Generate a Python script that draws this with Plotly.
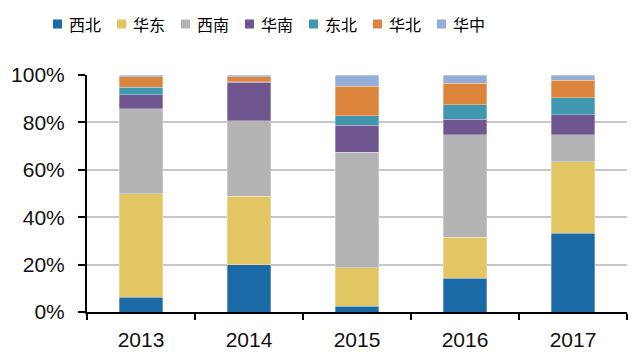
import plotly.graph_objects as go

years = ["2013", "2014", "2015", "2016", "2017"]
regions = ["西北", "华东", "西南", "华南", "东北", "华北", "华中"]
xibei = [6.3, 20.0, 2.4, 14.2, 33.3]
huadong = [43.5, 28.8, 16.2, 17.3, 30.0]
xinan = [35.9, 31.9, 48.9, 43.3, 11.4]
huanan = [5.9, 16.2, 11.2, 6.5, 8.5]
dongbei = [3.2, 0.3, 4.1, 6.2, 7.3]
huabei = [4.4, 2.0, 12.4, 9.0, 7.2]
huazhong = [0.8, 0.8, 4.8, 3.5, 2.3]
series = [xibei, huadong, xinan, huanan, dongbei, huabei, huazhong]
colors = ["#1B6AA5", "#E3C664", "#B4B4B4", "#6F568E", "#4097AE", "#DD843C", "#94ADD6"]
ytick_vals = [0, 20, 40, 60, 80, 100]
ytick_text = ["0%", "20%", "40%", "60%", "80%", "100%"]

# page is shifted by the html body margin (8px)
W, H = 632, 351
ML, MR, MT, MB = 79, 13, 67, 47
PW = W - ML - MR
PH = H - MT - MB
OFF = 8


def px_to_paper_x(px):
    return (px - OFF - ML) / PW


def py_to_paper_y(py):
    return (H - MB - (py - OFF)) / PH


fig = go.Figure()
for name, vals, c in zip(regions, series, colors):
    fig.add_trace(go.Bar(x=years, y=vals, name=name, marker_color=c, showlegend=False,
                         marker_line=dict(color="rgba(255,255,255,0.6)", width=0.5)))

# custom legend (square + label), evenly spaced as in the reference
legend_x0 = 53
legend_step = 64
for i, (name, c) in enumerate(zip(regions, colors)):
    sx = legend_x0 + i * legend_step
    fig.add_shape(type="rect", xref="paper", yref="paper",
                  x0=px_to_paper_x(sx), x1=px_to_paper_x(sx + 9),
                  y0=py_to_paper_y(28.5), y1=py_to_paper_y(19.5),
                  fillcolor=c, line=dict(width=0))
    fig.add_annotation(xref="paper", yref="paper", x=px_to_paper_x(sx + 14),
                       y=py_to_paper_y(24), text=name, showarrow=False,
                       xanchor="left", yanchor="middle",
                       font=dict(family="Noto Sans CJK SC", size=16, color="black"))

fig.update_layout(
    barmode="stack", bargap=0.6,
    width=W, height=H,
    margin=dict(l=ML, r=MR, t=MT, b=MB, autoexpand=False),
    plot_bgcolor="white", paper_bgcolor="white",
    font=dict(family="Liberation Sans, Arial", size=21, color="#111111"),
    showlegend=False,
)
fig.update_xaxes(showline=True, linecolor="black", linewidth=2, ticks="outside",
                 tickson="boundaries", ticklen=6, tickwidth=2, tickcolor="black",
                 ticklabelstandoff=8, automargin=False)
fig.update_yaxes(range=[0, 100], tickmode="array", tickvals=ytick_vals, ticktext=ytick_text,
                 showline=True, linecolor="black", linewidth=2, ticks="outside",
                 ticklen=7, tickwidth=2, tickcolor="black", automargin=False,
                 ticklabelstandoff=9,
                 showgrid=True, gridcolor="#C8C8C8", gridwidth=1.5, zeroline=False)

fig.write_html("out.html")
